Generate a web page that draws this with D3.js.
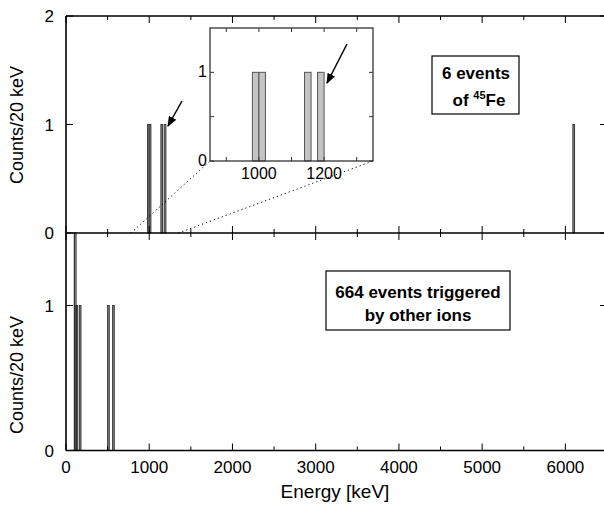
<!DOCTYPE html>
<html><head><meta charset="utf-8">
<script src="https://cdn.jsdelivr.net/npm/d3@7"></script>
<style>body{margin:0;background:#fff;overflow:hidden}svg{display:block;font-family:"Liberation Sans",Arial,sans-serif}</style>
</head><body><svg id="c" width="604" height="508"></svg>
<script>
// Data
const binWidth = 20;
const feBins = [980, 1000, 1140, 1180, 6090];        // bin start energies (keV)
const feCounts = [1, 1, 1, 1, 1];
const otherBins = [100, 120, 160, 500, 560];
const otherCounts = [660, 1, 1, 1, 1];
const xTicks = [0, 1000, 2000, 3000, 4000, 5000, 6000];
const xMinor = [500, 1500, 2500, 3500, 4500, 5500, 6500];
const topYTicks = [0, 1, 2];
const botYTicks = [0, 1];
const insetXTicks = [1000, 1200];
const insetXMinor = [900, 1100, 1300];
const insetYTicks = [0, 1];

const svg = d3.select("#c");
const L = 66, R = 607;
const x = d3.scaleLinear().domain([0, 6500]).range([L, R]);
const yT = d3.scaleLinear().domain([0, 2]).range([233, 16]);
const yB = d3.scaleLinear().domain([0, 1.5]).range([450.5, 233]);

function bars(g, bins, counts, y, xs, fill, stroke) {
  g.selectAll("rect").data(bins.map((b, i) => ({b, c: counts[i]}))).join("rect")
    .attr("x", d => xs(d.b)).attr("width", d => Math.max(xs(d.b + binWidth) - xs(d.b), 0.5))
    .attr("y", d => Math.max(y(d.c), y.range()[1])).attr("height", d => y(0) - Math.max(y(d.c), y.range()[1]))
    .attr("fill", fill).attr("stroke", stroke).attr("stroke-width", 1);
}
bars(svg.append("g"), feBins, feCounts, yT, x, "#8a8a8a", "#3a3a3a");
bars(svg.append("g"), otherBins.slice(1), otherCounts.slice(1), yB, x, "#8a8a8a", "#3a3a3a");
bars(svg.append("g"), otherBins.slice(0,1), otherCounts.slice(0,1), yB, x, "none", "#000");

// Frames
const ax = svg.append("g").attr("stroke", "#000").attr("fill", "none");
ax.append("path").attr("d", `M${L},${yB(0)}H${R+2}M${L},233H${R+2}M${L},16H${R+2}M${L},16V${yB(0)}M${R},16V${yB(0)}`).attr("stroke-width", 1.6);
xTicks.forEach(t => {
  ax.append("line").attr("x1", x(t)).attr("x2", x(t)).attr("y1", yB(0)).attr("y2", yB(0)-7);
  ax.append("line").attr("x1", x(t)).attr("x2", x(t)).attr("y1", 240).attr("y2", 226);
  ax.append("line").attr("x1", x(t)).attr("x2", x(t)).attr("y1", 16).attr("y2", 23);
});
xMinor.forEach(t => {
  ax.append("line").attr("x1", x(t)).attr("x2", x(t)).attr("y1", yB(0)).attr("y2", yB(0)-4);
  ax.append("line").attr("x1", x(t)).attr("x2", x(t)).attr("y1", 237).attr("y2", 229);
  ax.append("line").attr("x1", x(t)).attr("x2", x(t)).attr("y1", 16).attr("y2", 20);
});
topYTicks.forEach(t => {
  ax.append("line").attr("x1", L).attr("x2", L+7).attr("y1", yT(t)).attr("y2", yT(t));
  ax.append("line").attr("x1", R).attr("x2", R-7).attr("y1", yT(t)).attr("y2", yT(t));
});
botYTicks.forEach(t => {
  ax.append("line").attr("x1", L).attr("x2", L+7).attr("y1", yB(t)).attr("y2", yB(t));
  ax.append("line").attr("x1", R).attr("x2", R-7).attr("y1", yB(t)).attr("y2", yB(t));
});

// Labels
const tx = svg.append("g").attr("font-size", 17).attr("fill", "#000");
xTicks.forEach(t => tx.append("text").attr("x", x(t)).attr("y", 473).attr("text-anchor", "middle").text(t));
topYTicks.forEach(t => tx.append("text").attr("x", 54).attr("y", yT(t) + 6).attr("text-anchor", "end").text(t));
botYTicks.forEach(t => tx.append("text").attr("x", 54).attr("y", yB(t) + 6).attr("text-anchor", "end").text(t));
svg.append("text").attr("x", 335).attr("y", 498).attr("text-anchor", "middle").attr("font-size", 19).text("Energy [keV]");
svg.append("text").attr("transform", "translate(23,125) rotate(-90)").attr("text-anchor", "middle").attr("font-size", 18).text("Counts/20 keV");
svg.append("text").attr("transform", "translate(23,375) rotate(-90)").attr("text-anchor", "middle").attr("font-size", 18).text("Counts/20 keV");

// Dotted zoom lines
const iL = 210, iR = 373, iT = 28, iB = 161;
const xi = d3.scaleLinear().domain([850, 1350]).range([iL, iR]);
const yi = d3.scaleLinear().domain([0, 1.5]).range([iB, iT]);
svg.append("line").attr("x1", x(780)).attr("y1", 233).attr("x2", iL).attr("y2", iB).attr("stroke", "#000").attr("stroke-dasharray", "1.2,3").attr("stroke-width", 1);
svg.append("line").attr("x1", x(1350)).attr("y1", 233).attr("x2", iR).attr("y2", iB).attr("stroke", "#000").attr("stroke-dasharray", "1.2,3").attr("stroke-width", 1);

// Inset
const ins = svg.append("g");
ins.append("rect").attr("x", iL).attr("y", iT).attr("width", iR - iL).attr("height", iB - iT).attr("fill", "#fff");
bars(ins.append("g"), feBins.slice(0, 4), feCounts.slice(0, 4), yi, xi, "#c4c4c4", "#555");
ins.append("rect").attr("x", iL).attr("y", iT).attr("width", iR - iL).attr("height", iB - iT).attr("fill", "none").attr("stroke", "#333").attr("stroke-width", 1.3);
const it = ins.append("g").attr("stroke", "#333");
[...insetXTicks, ...insetXMinor].forEach(t => {
  it.append("line").attr("x1", xi(t)).attr("x2", xi(t)).attr("y1", iB).attr("y2", iB - 4);
  it.append("line").attr("x1", xi(t)).attr("x2", xi(t)).attr("y1", iT).attr("y2", iT + 4);
});
[0, 0.5, 1].forEach(t => {
  it.append("line").attr("x1", iL).attr("x2", iL + 4).attr("y1", yi(t)).attr("y2", yi(t));
  it.append("line").attr("x1", iR).attr("x2", iR - 4).attr("y1", yi(t)).attr("y2", yi(t));
});
insetXTicks.forEach(t => ins.append("text").attr("x", xi(t)).attr("y", 179).attr("text-anchor", "middle").attr("font-size", 16).text(t));
insetYTicks.forEach(t => ins.append("text").attr("x", 207).attr("y", yi(t) + 5).attr("text-anchor", "end").attr("font-size", 16).text(t));

// Arrows
svg.append("defs").append("marker").attr("id", "ah").attr("viewBox", "0 0 10 10").attr("refX", 9).attr("refY", 5)
  .attr("markerWidth", 7).attr("markerHeight", 7).attr("orient", "auto")
  .append("path").attr("d", "M0,1L10,5L0,9Z").attr("fill", "#000");
svg.append("line").attr("x1", 182).attr("y1", 101).attr("x2", 168).attr("y2", 126).attr("stroke", "#000").attr("stroke-width", 1.5).attr("marker-end", "url(#ah)");
svg.append("line").attr("x1", 347).attr("y1", 44).attr("x2", 327).attr("y2", 83).attr("stroke", "#000").attr("stroke-width", 1.5).attr("marker-end", "url(#ah)");

// Text boxes
svg.append("rect").attr("x", 432).attr("y", 56).attr("width", 87).attr("height", 58).attr("fill", "#fff").attr("stroke", "#000").attr("stroke-width", 1.2);
svg.append("text").attr("x", 476).attr("y", 79).attr("text-anchor", "middle").attr("font-size", 17).attr("font-weight", "bold").text("6 events");
const t2 = svg.append("text").attr("x", 479).attr("y", 106).attr("text-anchor", "middle").attr("font-size", 17).attr("font-weight", "bold");
t2.append("tspan").text("of ");
t2.append("tspan").attr("font-size", 11).attr("dy", -7).text("45");
t2.append("tspan").attr("dy", 7).text("Fe");
svg.append("rect").attr("x", 326).attr("y", 271).attr("width", 184).attr("height", 59).attr("fill", "#fff").attr("stroke", "#000").attr("stroke-width", 1.2);
svg.append("text").attr("x", 418).attr("y", 298).attr("text-anchor", "middle").attr("font-size", 17).attr("font-weight", "bold").text("664 events triggered");
svg.append("text").attr("x", 418).attr("y", 321).attr("text-anchor", "middle").attr("font-size", 17).attr("font-weight", "bold").text("by other ions");
</script></body></html>
